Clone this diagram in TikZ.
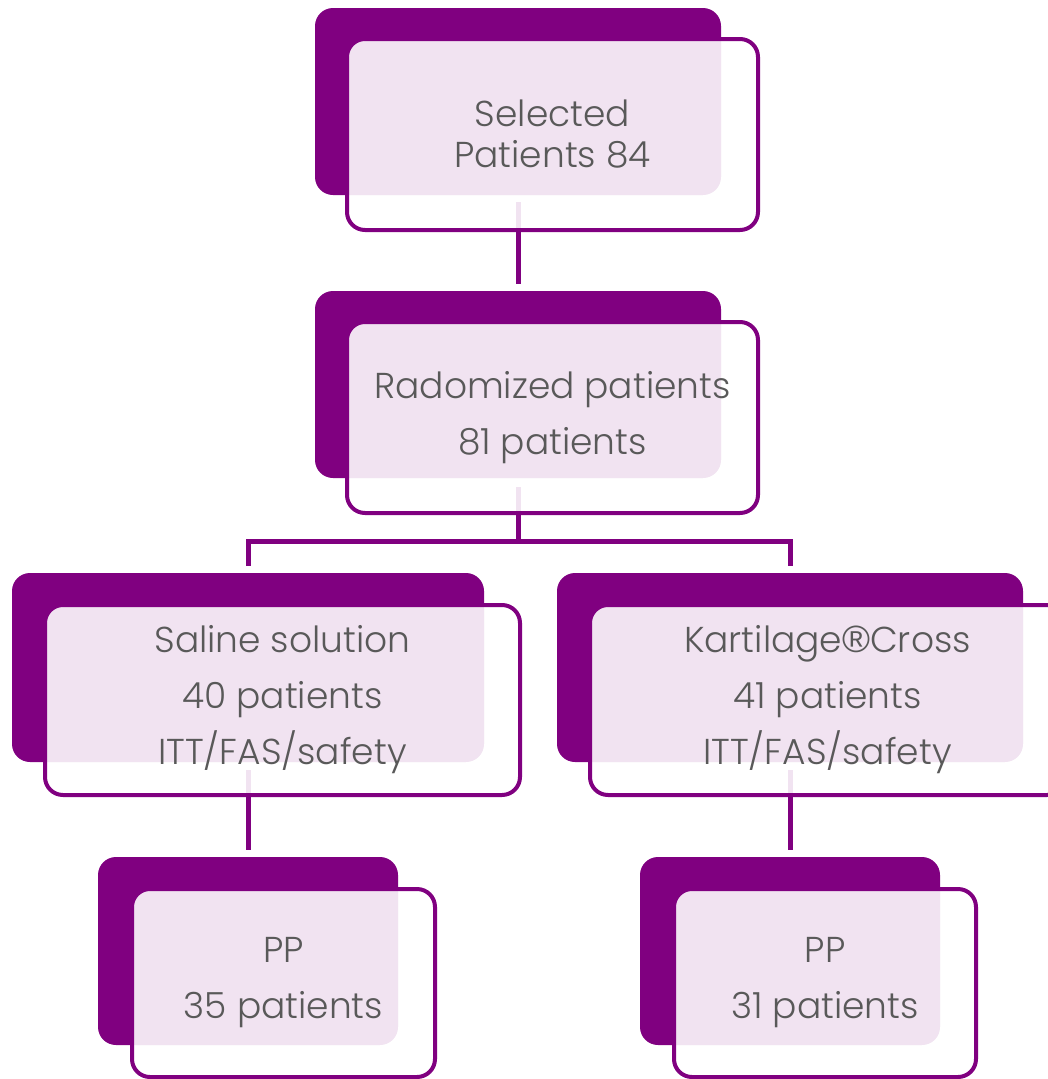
\documentclass[tikz,border=0pt]{standalone}
\usepackage{fontspec}
\setmainfont{Poppins}[UprightFont=* Light]
\newfontfamily\regfont{Liberation Sans}
\usetikzlibrary{positioning, backgrounds}
\definecolor{plumpurple}{RGB}{128,0,128}
\definecolor{textgray}{RGB}{89,89,89}

\tikzset{
  backbox/.style={fill=plumpurple, rounded corners=18pt, inner sep=0pt},
  frontbox/.style={draw=plumpurple, line width=4pt, fill=white, fill opacity=0.89,
    text opacity=1, rounded corners=18pt, text=textgray, align=center, inner sep=0pt,
    font=\fontsize{36}{56}\selectfont},
  link/.style={draw=plumpurple, line width=5pt}
}

\begin{document}
\begin{tikzpicture}[x=1pt, y=-1pt]
\useasboundingbox (0,0) rectangle (1047,1079);

% selected patients
\node[backbox, minimum width=406pt, minimum height=187pt] (sel-a) at (518,101.5) {};
\node[frontbox, minimum width=411pt, minimum height=191pt,
  font=\fontsize{36}{41}\selectfont] (sel-b) at (552.5,134.5) {Selected\\Patients 84};

% randomized
\node[backbox, minimum width=406pt, minimum height=187pt] (rand-a) at (518,384.5) {};
\node[frontbox, minimum width=411pt, minimum height=191pt] (rand-b) at (552.5,417.5)
  {Radomized patients\\81 patients};

% the two arms
\node[backbox, minimum width=472pt, minimum height=189pt] (sal-a) at (248,667.5) {};
\node[frontbox, minimum width=475pt, minimum height=190pt] (sal-b) at (282.5,700)
  {Saline solution\\40 patients\\ITT/FAS/safety};

\node[backbox, minimum width=466pt, minimum height=189pt] (kart-a) at (790,667.5) {};
\node[frontbox, minimum width=475pt, minimum height=190pt] (kart-b) at (827.5,700)
  {Kartilage{\regfont\fontsize{38}{56}\selectfont ®}Cross\\41 patients\\ITT/FAS/safety};

% per protocol
\node[backbox, minimum width=300pt, minimum height=188pt] (salpp-a) at (248,951) {};
\node[frontbox, minimum width=303pt, minimum height=188pt] (salpp-b) at (283.5,983)
  {PP\\35 patients};

\node[backbox, minimum width=300pt, minimum height=188pt] (kartpp-a) at (790,951) {};
\node[frontbox, minimum width=302pt, minimum height=188pt] (kartpp-b) at (825,983)
  {PP\\31 patients};

\begin{scope}[on background layer]
\coordinate (split) at (518,541);
\draw[link] ([yshift=-7pt]sel-a.south) -- ([yshift=7pt]rand-a.north);
\draw[link] ([yshift=-9pt]rand-a.south) -- (split);
\draw[link] ([yshift=7pt]sal-a.north) |- (split) -| ([yshift=7pt]kart-a.north);
\draw[link] ([yshift=-8pt]sal-a.south) -- ([yshift=7pt]salpp-a.north);
\draw[link] ([yshift=-8pt]kart-a.south) -- ([yshift=7pt]kartpp-a.north);
\end{scope}
\end{tikzpicture}
\end{document}
